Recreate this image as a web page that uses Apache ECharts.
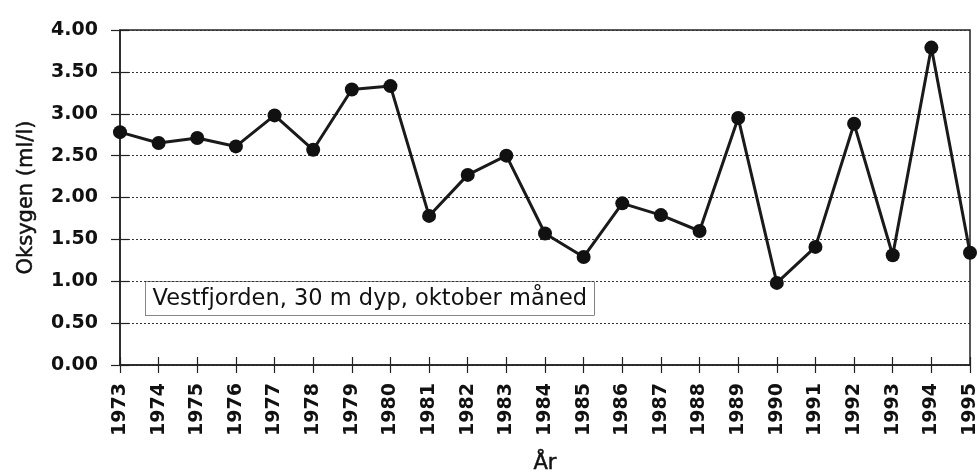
<!DOCTYPE html>
<html>
<head>
<meta charset="utf-8">
<script src="https://cdn.jsdelivr.net/npm/echarts@6/dist/echarts.min.js"></script>
<style>
html,body{margin:0;padding:0;background:#fff;}
#chart{width:979px;height:473px;}
</style>
</head>
<body>
<div id="chart"></div>
<script>
const years = ['1973','1974','1975','1976','1977','1978','1979','1980','1981','1982','1983','1984','1985','1986','1987','1988','1989','1990','1991','1992','1993','1994','1995'];
const oxygen = [2.78,2.65,2.71,2.61,2.98,2.57,3.29,3.33,1.78,2.27,2.50,1.57,1.29,1.93,1.79,1.60,2.95,0.98,1.41,2.88,1.31,3.79,1.34];
const yMin = 0, yMax = 4, yStep = 0.5;
const yName = 'Oksygen (ml/l)';
const xName = 'År';
const note = 'Vestfjorden, 30 m dyp, oktober måned';

const FONT = 'DejaVu Sans';
const INK = '#111';
const chart = echarts.init(document.getElementById('chart'), null, {renderer:'canvas'});
chart.setOption({
  animation:false,
  backgroundColor:'#fff',
  grid:{left:120,right:9,top:30,bottom:108,containLabel:false,outerBoundsMode:'none',show:true,borderColor:'#222',borderWidth:1.5,backgroundColor:'transparent'},
  xAxis:[{
    type:'category',data:years,boundaryGap:false,
    name:xName,nameLocation:'middle',nameGap:88,
    nameTextStyle:{fontFamily:FONT,fontSize:21,color:INK,textBorderColor:INK,textBorderWidth:0.5},
    axisLine:{lineStyle:{color:'#222',width:1.5}},
    axisTick:{show:true,length:8,lineStyle:{color:'#222',width:1.2}},
    axisLabel:{rotate:90,fontFamily:FONT,fontWeight:'bold',fontSize:19,color:INK,margin:18,interval:0},
    splitLine:{show:false}
  },{
    type:'category',data:years,boundaryGap:false,position:'bottom',
    axisLine:{show:false},
    axisTick:{show:true,inside:true,length:8,lineStyle:{color:'#222',width:1.2}},
    axisLabel:{show:false},splitLine:{show:false}
  }],
  yAxis:[{
    type:'value',min:yMin,max:yMax,interval:yStep,
    name:yName,nameLocation:'middle',nameGap:83,
    nameTextStyle:{fontFamily:FONT,fontSize:21,color:INK,textBorderColor:INK,textBorderWidth:0.5},
    axisLine:{show:true,lineStyle:{color:'#222',width:1.5}},
    axisTick:{show:true,length:9,lineStyle:{color:'#222',width:1.2}},
    axisLabel:{fontFamily:FONT,fontWeight:'bold',fontSize:19,color:INK,margin:22,formatter:v=>v.toFixed(2)},
    splitLine:{show:true,lineStyle:{color:'#333',width:1,type:[2,2]}}
  },{
    type:'value',min:yMin,max:yMax,interval:yStep,position:'left',
    axisLine:{show:false},
    axisTick:{show:true,inside:true,length:9,lineStyle:{color:'#222',width:1.2}},
    axisLabel:{show:false},splitLine:{show:false}
  }],
  series:[{
    type:'line',data:oxygen,xAxisIndex:0,yAxisIndex:0,
    symbol:'circle',symbolSize:14,
    itemStyle:{color:'#111'},
    lineStyle:{color:'#1a1a1a',width:3}
  }],
  graphic:[{
    type:'text',left:145,top:281,
    style:{text:note,font:'22.5px "DejaVu Sans"',fill:INK,textBorderColor:INK,textBorderWidth:0.5,
      backgroundColor:'#fff',borderColor:'#222',borderWidth:1.2,padding:[6,7,5,7]}
  }]
});
</script>
</body>
</html>
